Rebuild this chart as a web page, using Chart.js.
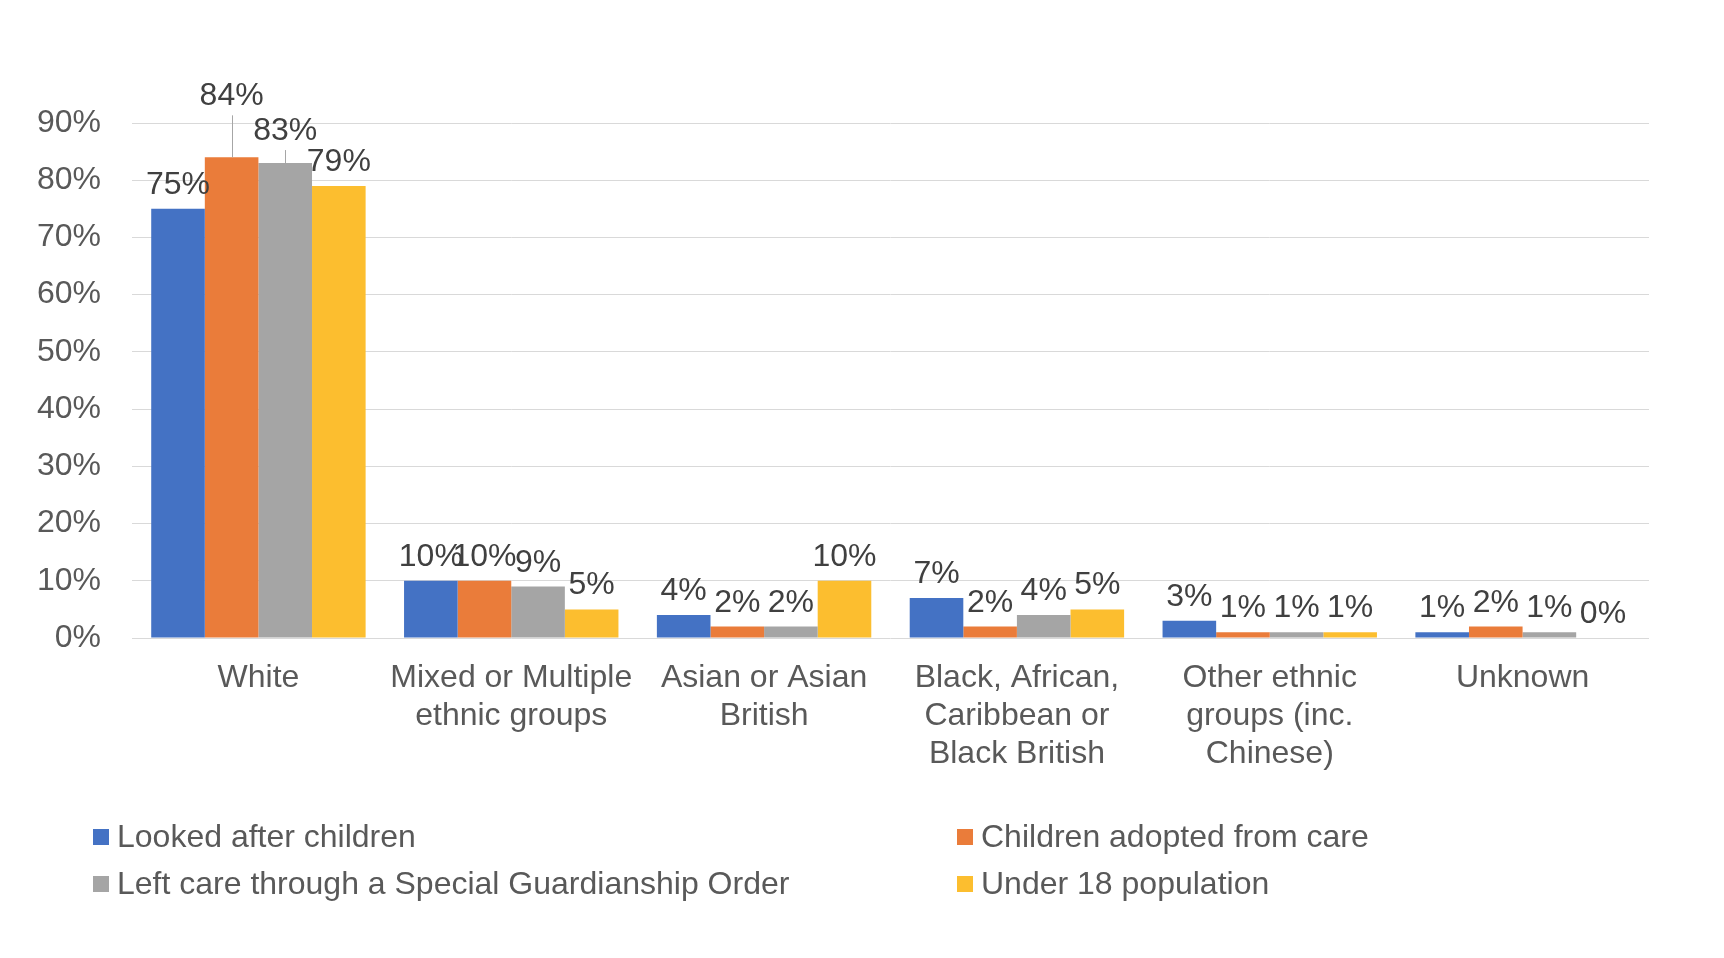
<!DOCTYPE html>
<html lang="en">
<head>
    <meta charset="UTF-8">
    <title>Ethnicity of children</title>
    <script src="https://cdn.jsdelivr.net/npm/chart.js@4.4.1/dist/chart.umd.min.js"></script>
    <style>
        html, body {
            margin: 0;
            padding: 0;
            background: #fff;
            overflow: hidden;
        }

        #wrap {
            width: 1724px;
            height: 958px;
            position: relative;
        }
    </style>
</head>
<body>

<div id="wrap">
    <canvas id="chartCanvas"></canvas>
</div>

<script>
    const categories = [
        'White',
        ['Mixed or Multiple', 'ethnic groups'],
        ['Asian or Asian', 'British'],
        ['Black, African,', 'Caribbean or', 'Black British'],
        ['Other ethnic', 'groups (inc.', 'Chinese)'],
        'Unknown'
    ];
    const seriesNames = ['Looked after children', 'Children adopted from care', 'Left care through a Special Guardianship Order', 'Under 18 population'];
    const lookedAfter = [75, 10, 4, 7, 3, 1];
    const adopted = [84, 10, 2, 2, 1, 2];
    const sgo = [83, 9, 2, 4, 1, 1];
    const under18 = [79, 5, 10, 5, 1, 0];
    const yTicks = [0, 10, 20, 30, 40, 50, 60, 70, 80, 90];

    const colors = ['#4472C4', '#EA7C3A', '#A5A5A5', '#FCBE2F'];
    const fontFamily = '"Liberation Sans", Arial, sans-serif';
    const fontSize = 32;

    // labels that Excel pushed up and tied back with a leader line ("dataset,index": extra lift)
    const leaderLift = { '1,0': 37, '2,0': 8 };

    const barLabels = {
        id: 'barLabels',
        afterDatasetsDraw(chart) {
            const ctx = chart.ctx;
            ctx.save();
            ctx.font = fontSize + 'px ' + fontFamily;
            ctx.fillStyle = '#404040';
            ctx.textAlign = 'center';
            ctx.textBaseline = 'alphabetic';
            chart.data.datasets.forEach((ds, i) => {
                chart.getDatasetMeta(i).data.forEach((bar, j) => {
                    const lift = leaderLift[i + ',' + j] || 0;
                    const y = bar.y - 15 - lift;
                    if (lift) {
                        ctx.strokeStyle = '#A6A6A6';
                        ctx.lineWidth = 1;
                        ctx.beginPath();
                        ctx.moveTo(Math.round(bar.x) + 0.5, y + 10);
                        ctx.lineTo(Math.round(bar.x) + 0.5, bar.y);
                        ctx.stroke();
                    }
                    ctx.fillText(ds.data[j] + '%', bar.x, y);
                });
            });
            ctx.restore();
        }
    };

    // two-column legend under the axis, like the Excel original
    const gridLegend = {
        id: 'gridLegend',
        afterDraw(chart) {
            const ctx = chart.ctx;
            const top = chart.chartArea.bottom;
            const cols = [93, 957];
            const rows = [top + 199, top + 246];
            ctx.save();
            ctx.font = fontSize + 'px ' + fontFamily;
            ctx.textBaseline = 'middle';
            ctx.textAlign = 'left';
            chart.data.datasets.forEach((ds, i) => {
                const x = cols[i % 2];
                const y = rows[Math.floor(i / 2)];
                ctx.fillStyle = ds.backgroundColor;
                ctx.fillRect(x, y - 8, 16, 16);
                ctx.fillStyle = '#595959';
                ctx.fillText(ds.label, x + 24, y + 1);
            });
            ctx.restore();
        }
    };

    const allSeries = [lookedAfter, adopted, sgo, under18];

    const chart = new Chart(document.getElementById('chartCanvas'), {
        type: 'bar',
        data: {
            labels: categories,
            datasets: allSeries.map((values, i) => ({
                label: seriesNames[i],
                data: values,
                backgroundColor: colors[i],
                borderWidth: 0,
                categoryPercentage: 0.848,
                barPercentage: 1
            }))
        },
        options: {
            responsive: true,
            maintainAspectRatio: false,
            animation: false,
            layout: {
                padding: { top: 123, right: 75, bottom: 123, left: 0 }
            },
            plugins: {
                legend: { display: false },
                tooltip: { enabled: false }
            },
            scales: {
                x: {
                    grid: { display: false },
                    border: { display: false },
                    ticks: {
                        color: '#595959',
                        maxRotation: 0,
                        autoSkip: false,
                        padding: 13,
                        font: { size: fontSize, family: fontFamily, lineHeight: 1.19 }
                    },
                    afterFit(scale) { scale.height = 197; }
                },
                y: {
                    min: 0,
                    max: 90,
                    grid: { color: '#D9D9D9', lineWidth: 1, drawTicks: false },
                    border: { display: false },
                    afterBuildTicks(scale) {
                        scale.ticks = yTicks.map(v => ({ value: v }));
                    },
                    ticks: {
                        color: '#595959',
                        padding: 31,
                        font: { size: fontSize, family: fontFamily },
                        callback: v => v + '%'
                    },
                    afterFit(scale) { scale.width = 132; }
                }
            }
        },
        plugins: [barLabels, gridLegend]
    });
</script>

</body>
</html>
